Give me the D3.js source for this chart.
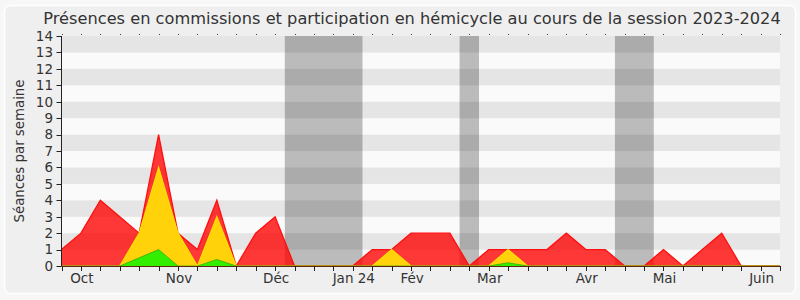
<!DOCTYPE html>
<html><head><meta charset="utf-8">
<script src="https://cdn.jsdelivr.net/npm/d3@7"></script>
<style>html,body{margin:0;padding:0;background:#f7f7f7;}svg{display:block;font-family:"DejaVu Sans",Verdana,sans-serif;}</style>
</head><body>
<svg id="c" width="800" height="300"></svg>
<script>
const title = "Présences en commissions et participation en hémicycle au cours de la session 2023-2024";
const yLabel = "Séances par semaine";
const weeks = d3.range(38);
const totalSeances = [1,2,4,3,2,8,2,1,4,0,2,3,0,0,0,0,1,1,2,2,2,0,1,1,1,1,2,1,1,0,0,1,0,1,2,0,0,0];
const yellowSeances = [0,0,0,0,2,6,2,0,3,0,0,0,0,0,0,0,0,1,0,0,0,0,0,1,0,0,0,0,0,0,0,0,0,0,0,0,0,0];
const greenSeances = [0,0,0,0,0.5,1,0,0,0.4,0,0,0,0,0,0,0,0,0,0,0,0,0,0,0.2,0,0,0,0,0,0,0,0,0,0,0,0,0,0];
const monthLabels = ["Oct","Nov","Déc","Jan 24","Fév","Mar","Avr","Mai","Juin"];
const monthWeeks = [1,6,11,15,18,22,27,31,36];
const vacations = [[11.5,15.5],[20.5,21.5],[28.5,30.5]];
const yTicks = d3.range(0,15);

const svg = d3.select("#c");
const m = {l:61.5, r:780, t:36, b:266};
const x = d3.scaleLinear().domain([0,37]).range([m.l,m.r]);
const y = d3.scaleLinear().domain([0,14]).range([m.b,m.t]);

// panel
svg.append("rect").attr("x",4.5).attr("y",5.5).attr("width",791).attr("height",288).attr("rx",6)
  .attr("fill","#efefef").attr("stroke","#ffffff").attr("stroke-width",1.5);

// stripes
svg.append("g").selectAll("rect").data(d3.range(0,14)).join("rect")
  .attr("x",m.l).attr("width",m.r-m.l)
  .attr("y",d=>y(d+1)).attr("height",d=>y(d)-y(d+1))
  .attr("fill",d=>d%2===1?"#e5e5e5":"#fafafa");

// vacation bands
svg.append("g").selectAll("rect").data(vacations).join("rect")
  .attr("x",d=>x(d[0])).attr("width",d=>x(d[1])-x(d[0]))
  .attr("y",m.t).attr("height",m.b-m.t)
  .attr("fill","rgba(0,0,0,0.25)");

function area(vals){
  return d3.area().x((d,i)=>x(i)).y0(y(0)).y1(d=>y(d))(vals);
}
function line(vals){
  return d3.line().x((d,i)=>x(i)).y(d=>y(d))(vals);
}
svg.append("path").attr("d",area(totalSeances)).attr("fill","rgba(255,0,0,0.78)");
svg.append("path").attr("d",line(totalSeances)).attr("fill","none").attr("stroke","#ff1010").attr("stroke-width",1.3);
svg.append("path").attr("d",area(yellowSeances)).attr("fill","#ffd20a");
svg.append("path").attr("d",line(yellowSeances)).attr("fill","none").attr("stroke","#ffe000").attr("stroke-width",1.2);
svg.append("path").attr("d",area(greenSeances)).attr("fill","#33ee00");
svg.append("path").attr("d",line(greenSeances)).attr("fill","none").attr("stroke","#1a9a00").attr("stroke-width",1).attr("stroke-opacity",0.6);

// axes
const ax = svg.append("g").attr("stroke","#222").attr("stroke-width",1);
ax.append("line").attr("x1",m.l).attr("x2",m.r).attr("y1",m.b+0.5).attr("y2",m.b+0.5).attr("stroke","#5a2a10");
ax.append("line").attr("x1",m.l).attr("x2",m.l).attr("y1",m.t).attr("y2",m.b);
ax.selectAll(".bt").data(weeks).join("line")
  .attr("x1",d=>Math.round(x(d))+0.5).attr("x2",d=>Math.round(x(d))+0.5)
  .attr("y1",m.b).attr("y2",m.b+5);
ax.selectAll(".tt").data(weeks).join("line")
  .attr("x1",d=>Math.round(x(d))+0.5).attr("x2",d=>Math.round(x(d))+0.5)
  .attr("y1",m.t-2).attr("y2",m.t-1).attr("stroke","#444");
ax.selectAll(".yt").data(yTicks).join("line")
  .attr("x1",m.l-5).attr("x2",m.l).attr("y1",d=>Math.round(y(d))+0.5).attr("y2",d=>Math.round(y(d))+0.5);

svg.append("g").selectAll("text").data(yTicks).join("text")
  .attr("x",53).attr("y",d=>y(d)).attr("dy","0.36em").attr("text-anchor","end")
  .attr("font-size",13.5).attr("fill","#333").text(d=>d);

svg.append("g").selectAll("text").data(monthLabels).join("text")
  .attr("x",(d,i)=>x(monthWeeks[i])+1).attr("y",283).attr("text-anchor","middle")
  .attr("font-size",13.5).attr("fill","#333").text(d=>d);

const t = svg.append("text").attr("x",412).attr("y",24).attr("text-anchor","middle")
  .attr("font-size",16).attr("fill","#333").text(title);
const tw = t.node().getComputedTextLength();
t.attr("font-size",16*738/tw);

const yl = svg.append("text").attr("transform","translate(24,151) rotate(-90)").attr("text-anchor","middle")
  .attr("font-size",14).attr("fill","#333").text(yLabel);
const yw = yl.node().getComputedTextLength();
yl.attr("font-size",14*143/yw);
</script>
</body></html>
